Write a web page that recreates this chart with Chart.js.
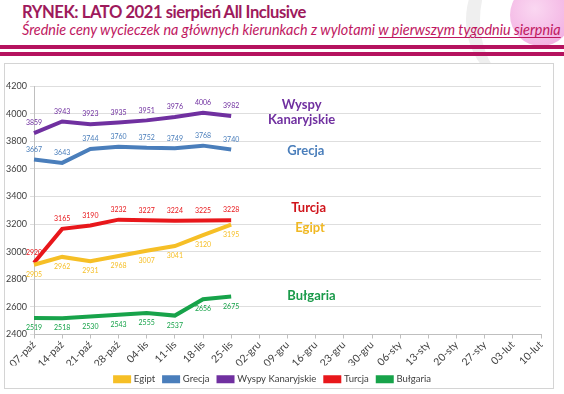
<!DOCTYPE html>
<html lang="pl">
<head>
<meta charset="utf-8">
<script src="https://cdn.jsdelivr.net/npm/chart.js@4.4.1/dist/chart.umd.min.js"></script>
<style>
  html, body { margin: 0; padding: 0; background: #fff; }
  body { width: 564px; height: 394px; position: relative; overflow: hidden; font-family: Lato, "Open Sans", sans-serif; }
  .deco-arc { position: absolute; left: 466px; top: -50px; width: 130px; height: 140px; border-radius: 50%;
              border-left: 14px solid #efefef; box-sizing: border-box; }
  .deco-globe { position: absolute; left: 510px; top: -16px; width: 62px; height: 62px; border-radius: 50%;
                background: radial-gradient(circle at 40% 40%, #fad7f1, #f0a6de); }
  h1 { position: absolute; left: 22px; top: 2px; margin: 0; font-size: 16.6px; letter-spacing: -0.45px; font-weight: 700; color: #9e1a5c; white-space: nowrap; }
  .sub { position: absolute; left: 22px; top: 21px; margin: 0; font-size: 14.4px; font-style: italic; color: #c0175f; white-space: nowrap; }
  .sub u { text-underline-offset: 2px; }
  .band { position: absolute; left: 0; width: 564px; height: 4px; background: #b5125f; }
  .box { position: absolute; left: 4px; top: 63px; width: 550px; height: 326px; border: 1px solid #d4d4d4; box-sizing: border-box; background: #fff; }
  canvas { position: absolute; left: 0; top: 0; }
</style>
</head>
<body>
<div class="deco-arc"></div>
<div class="deco-globe"></div>
<h1>RYNEK: LATO 2021 sierpień All Inclusive</h1>
<p class="sub">Średnie ceny wycieczek na głównych kierunkach z wylotami <u>w pierwszym tygodniu sierpnia</u></p>
<div class="band" style="top:45px"></div>
<div class="band" style="top:52px"></div>
<div class="box"><canvas id="c" width="548" height="330"></canvas></div>
<script>
// tygodnie wylotów (oś X)
const weeks = ['07-paź','14-paź','21-paź','28-paź','04-lis','11-lis','18-lis','25-lis','02-gru','09-gru',
               '16-gru','23-gru','30-gru','06-sty','13-sty','20-sty','27-sty','03-lut','10-lut'];

// średnie ceny (zł)
const egipt    = [2905, 2962, 2931, 2968, 3007, 3041, 3120, 3195];
const grecja   = [3667, 3643, 3744, 3760, 3752, 3749, 3768, 3740];
const kanary   = [3859, 3943, 3923, 3935, 3951, 3976, 4006, 3982];
const turcja   = [2920, 3165, 3190, 3232, 3227, 3224, 3225, 3228];
const bulgaria = [2519, 2518, 2530, 2543, 2555, 2537, 2656, 2675];

const yTicks = [2400, 2600, 2800, 3000, 3200, 3400, 3600, 3800, 4000, 4200];

const series = [
  { label: 'Egipt',             data: egipt,    color: '#f6bf26', below: true },
  { label: 'Grecja',            data: grecja,   color: '#4a7ebb', below: false },
  { label: 'Wyspy Kanaryjskie', data: kanary,   color: '#7030a0', below: false },
  { label: 'Turcja',            data: turcja,   color: '#e8171b', below: false },
  { label: 'Bułgaria',          data: bulgaria, color: '#17a34a', below: true }
];

// nazwy kierunków przy prawej stronie wykresu (pozycja: indeks tygodnia, wartość)
const sideNames = [
  { lines: ['Wyspy', 'Kanaryjskie'], ix: 9.5,  at: 4012, color: '#7030a0' },
  { lines: ['Grecja'],               ix: 9.65, at: 3727, color: '#4a7ebb' },
  { lines: ['Turcja'],               ix: 9.75, at: 3318, color: '#d0151c' },
  { lines: ['Egipt'],                ix: 9.8,  at: 3172, color: '#f0b823' },
  { lines: ['Bułgaria'],             ix: 9.85, at: 2677, color: '#1a9a4a' }
];

const valueLabels = {
  id: 'valueLabels',
  afterDatasetsDraw(chart) {
    const ctx = chart.ctx;
    ctx.save();
    ctx.font = '7px Lato, sans-serif';
    ctx.textAlign = 'center';
    ctx.textBaseline = 'middle';
    chart.data.datasets.forEach((ds, i) => {
      const meta = chart.getDatasetMeta(i);
      ctx.fillStyle = ds.borderColor;
      meta.data.forEach((pt, j) => {
        const dy = series[i].below ? 10 : -10;
        ctx.fillText(ds.data[j], pt.x, pt.y + dy);
      });
    });
    // podpisy serii
    ctx.font = 'bold 13px Lato, sans-serif';
    sideNames.forEach(n => {
      const x = chart.scales.x.getPixelForValue(n.ix);
      const y = chart.scales.y.getPixelForValue(n.at);
      ctx.fillStyle = n.color;
      n.lines.forEach((t, k) => ctx.fillText(t, x, y + (k - (n.lines.length - 1) / 2) * 15));
    });
    ctx.restore();
  }
};

new Chart(document.getElementById('c'), {
  type: 'line',
  data: {
    labels: weeks,
    datasets: series.map(s => ({
      label: s.label,
      data: s.data,
      borderColor: s.color,
      backgroundColor: s.color,
      borderWidth: 4,
      pointRadius: 0,
      tension: 0
    }))
  },
  options: {
    responsive: false,
    animation: false,
    layout: { padding: { top: 22, right: 12, left: 0, bottom: 0 } },
    plugins: {
      legend: {
        position: 'bottom',
        labels: {
          boxWidth: 14, boxHeight: 4, padding: 9,
          color: '#404040',
          font: { family: 'Lato, sans-serif', size: 9.5 }
        }
      },
      tooltip: { enabled: false }
    },
    scales: {
      x: {
        offset: false,
        afterFit: s => { s.height = 31; },
        grid: { drawOnChartArea: false, drawTicks: true, tickLength: 4, color: '#bfbfbf' },
        border: { color: '#bfbfbf' },
        ticks: {
          minRotation: 45, maxRotation: 45, autoSkip: false, padding: 0,
          color: '#404040', font: { family: 'Lato, sans-serif', size: 10.5 }
        }
      },
      y: {
        min: 2400, max: 4200,
        afterFit: s => { s.width = 29; },
        afterBuildTicks: s => { s.ticks = yTicks.map(v => ({ value: v })); },
        grid: { color: '#dedede', tickLength: 4 },
        border: { color: '#bfbfbf' },
        ticks: {
          padding: 3, color: '#404040', font: { family: 'Lato, sans-serif', size: 9 },
          callback: v => String(v)
        }
      }
    }
  },
  plugins: [valueLabels]
});
</script>
</body>
</html>
